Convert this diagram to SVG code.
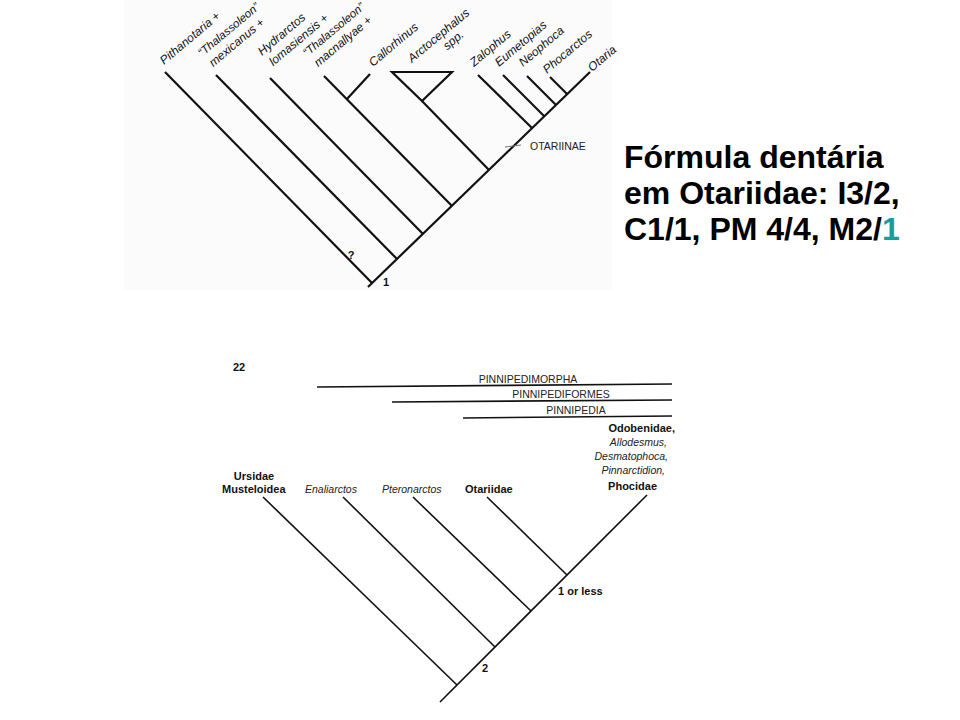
<svg xmlns="http://www.w3.org/2000/svg" width="960" height="720" viewBox="0 0 960 720">
<style>
.lab{font-family:"Liberation Sans",Arial,sans-serif;font-style:italic;font-size:12px;fill:#111}
.br{stroke:#111;stroke-width:2.2;fill:none}
.br2{stroke:#111;stroke-width:1.6;fill:none}
.bd{font-family:"Liberation Sans",Arial,sans-serif;font-weight:bold;font-size:11px;fill:#111}
.it{font-family:"Liberation Sans",Arial,sans-serif;font-style:italic;font-size:10.5px;fill:#222}
.cl{font-family:"Liberation Sans",Arial,sans-serif;font-size:10.5px;fill:#222}
.big{font-family:"Liberation Sans",Arial,sans-serif;font-weight:bold;font-size:32px;fill:#000}
</style>
<rect width="960" height="720" fill="#ffffff"/>
<rect x="124" y="0" width="488" height="290" fill="#fbfbfb"/>

<g id="connectors">
  <g id="top-tree">
    <path class="br" d="M368,287 L590,72"/>
    <path class="br" d="M165,72 L372,283"/>
    <path class="br" d="M216,75 L397,259"/>
    <path class="br" d="M270,78 L423,234"/>
    <path class="br" d="M324,76 L452,206"/>
    <path class="br" d="M370,74 L347,99"/>
    <path class="br" d="M392,72 L452,72 L422,101 Z"/>
    <path class="br" d="M422,101 L489,170"/>
    <path class="br" d="M478,75 L532,128"/>
    <path class="br" d="M503,75 L544,116"/>
    <path class="br" d="M527,76 L556,105"/>
    <path class="br" d="M550,77 L567,94"/>
    <path d="M505,147 L521,145" stroke="#777" stroke-width="1" fill="none"/>
  </g>
  <g id="bottom-tree">
    <path class="br2" d="M440,702 L647,495"/>
    <path class="br2" d="M263,497 L457,685"/>
    <path class="br2" d="M343,497 L495,647"/>
    <path class="br2" d="M413,497 L531,611"/>
    <path class="br2" d="M487,497 L567,575"/>
    <path class="br2" d="M317,387 L672,384"/>
    <path class="br2" d="M392,402 L672,400"/>
    <path class="br2" d="M463,418 L672,416"/>
  </g>
</g>

<g id="top-labels">
  <g id="n-pithanotaria"><text class="lab" transform="translate(164,65) rotate(-40)">Pithanotaria +</text></g>
  <g id="n-thal-mex"><text class="lab" transform="translate(202,57) rotate(-40)"><tspan x="0" y="0" font-size="11.5">“Thalassoleon”</tspan><tspan x="2" y="15">mexicanus +</tspan></text></g>
  <g id="n-hydrarctos"><text class="lab" transform="translate(262,56) rotate(-40)"><tspan x="0" y="0">Hydrarctos</tspan><tspan x="2" y="15">lomasiensis +</tspan></text></g>
  <g id="n-thal-mac"><text class="lab" transform="translate(307,57) rotate(-40)"><tspan x="0" y="0" font-size="11.5">“Thalassoleon”</tspan><tspan x="2" y="15">macnallyae +</tspan></text></g>
  <g id="n-callorhinus"><text class="lab" transform="translate(373,67) rotate(-40)">Callorhinus</text></g>
  <g id="n-arctocephalus"><text class="lab" transform="translate(412,63) rotate(-40)"><tspan x="0" y="0">Arctocephalus</tspan><tspan x="35" y="13">spp.</tspan></text></g>
  <g id="n-zalophus"><text class="lab" transform="translate(474,67) rotate(-40)">Zalophus</text></g>
  <g id="n-eumetopias"><text class="lab" transform="translate(499,67) rotate(-40)">Eumetopias</text></g>
  <g id="n-neophoca"><text class="lab" transform="translate(523,67) rotate(-40)">Neophoca</text></g>
  <g id="n-phocarctos"><text class="lab" transform="translate(547,74) rotate(-40)">Phocarctos</text></g>
  <g id="n-otaria"><text class="lab" transform="translate(592,72) rotate(-40)">Otaria</text></g>
  <g id="n-otariinae"><text class="cl" x="530" y="150" font-size="12">OTARIINAE</text></g>
  <g id="n-q"><text class="bd" x="351" y="259" text-anchor="middle" font-size="13">?</text></g>
  <g id="n-1top"><text class="bd" x="386" y="286" text-anchor="middle" font-size="13.5">1</text></g>
</g>

<g id="formula">
  <text class="big" x="624" y="168">Fórmula dentária</text>
  <text class="big" x="624" y="204">em Otariidae: I3/2,</text>
  <text class="big" x="624" y="240">C1/1, PM 4/4, M2/<tspan fill="#1a9c9a">1</tspan></text>
</g>

<g id="bottom-labels">
  <g id="n-22"><text class="bd" x="233" y="371" font-size="14">22</text></g>
  <g id="n-pinnipedimorpha"><text class="cl" x="528" y="383" text-anchor="middle">PINNIPEDIMORPHA</text></g>
  <g id="n-pinnipediformes"><text class="cl" x="561" y="398" text-anchor="middle">PINNIPEDIFORMES</text></g>
  <g id="n-pinnipedia"><text class="cl" x="576" y="414" text-anchor="middle">PINNIPEDIA</text></g>
  <g id="n-phocoid">
    <text class="bd" x="675" y="432" text-anchor="end">Odobenidae,</text>
    <text class="it" x="667" y="446" text-anchor="end">Allodesmus,</text>
    <text class="it" x="668" y="460" text-anchor="end">Desmatophoca,</text>
    <text class="it" x="665" y="474" text-anchor="end">Pinnarctidion,</text>
    <text class="bd" x="657" y="490" text-anchor="end">Phocidae</text>
  </g>
  <g id="n-ursidae">
    <text class="bd" x="254" y="480" text-anchor="middle">Ursidae</text>
    <text class="bd" x="222" y="493">Musteloidea</text>
  </g>
  <g id="n-enaliarctos"><text class="it" x="305" y="493">Enaliarctos</text></g>
  <g id="n-pteronarctos"><text class="it" x="382" y="493">Pteronarctos</text></g>
  <g id="n-otariidae"><text class="bd" x="465" y="493">Otariidae</text></g>
  <g id="n-2"><text class="bd" x="482" y="672" font-size="12">2</text></g>
  <g id="n-1orless"><text class="bd" x="558" y="595" font-size="12">1 or less</text></g>
</g>
</svg>
